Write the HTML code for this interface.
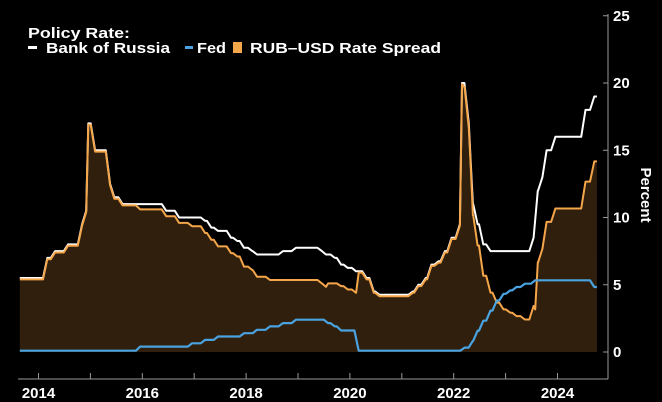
<!DOCTYPE html>
<html><head><meta charset="utf-8">
<style>
html,body{margin:0;padding:0;background:#000;}
svg{display:block;font-family:"Liberation Sans",sans-serif;}
</style></head>
<body>
<svg id="chart" width="662" height="402" viewBox="0 0 662 402">
<rect x="0" y="0" width="662" height="402" fill="#000"/>
<g font-weight="bold" font-size="15" fill="#fff">
<text x="28" y="38" textLength="102" lengthAdjust="spacingAndGlyphs">Policy Rate:</text>
<rect x="28" y="46" width="9" height="3" fill="#fff"/>
<text x="46" y="53" textLength="124" lengthAdjust="spacingAndGlyphs">Bank of Russia</text>
<rect x="185" y="46" width="8" height="3" fill="#4aa3e0"/>
<text x="197" y="53" textLength="29" lengthAdjust="spacingAndGlyphs">Fed</text>
<rect x="233" y="42" width="9" height="11" fill="#f5a64a"/>
<text x="250" y="53" textLength="191" lengthAdjust="spacingAndGlyphs">RUB–USD Rate Spread</text>
</g>
<g id="plot"></g>
<g id="axes"></g>
<text transform="translate(641,195) rotate(90)" text-anchor="middle" font-weight="bold" font-size="15" fill="#fff">Percent</text>
</svg>
<script>
const cbrDates=[2013.64,2014.17,2014.32,2014.57,2014.84,2014.92,2014.96,2015.09,2015.38,2015.46,2015.62,2016.46,2016.71,2017.21,2017.33,2017.46,2017.71,2017.83,2017.96,2018.12,2018.21,2018.71,2018.96,2019.46,2019.54,2019.71,2019.83,2019.96,2020.12,2020.32,2020.46,2020.57,2021.21,2021.32,2021.46,2021.57,2021.71,2021.83,2021.96,2022.12,2022.16,2022.29,2022.33,2022.37,2022.46,2022.57,2022.71,2023.54,2023.62,2023.71,2023.79,2023.96,2024.54,2024.71];
const cbrValues=[5.5,7,7.5,8,9.5,10.5,17,15,12.5,11.5,11,10.5,10,9.75,9.25,9,8.5,8.25,7.75,7.5,7.25,7.5,7.75,7.5,7.25,7,6.5,6.25,6,5.5,4.5,4.25,4.5,5,5.5,6.5,6.75,7.5,8.5,9.5,20,17,14,11,9.5,8,7.5,8.5,12,13,15,16,18,19];
const fedDates=[2013.64,2015.96,2016.96,2017.21,2017.46,2017.96,2018.21,2018.46,2018.71,2018.96,2019.58,2019.71,2019.83,2020.17,2022.21,2022.37,2022.46,2022.57,2022.71,2022.83,2022.96,2023.09,2023.21,2023.37,2023.57,2024.71];
const fedValues=[0.1,0.4,0.65,0.9,1.15,1.4,1.65,1.9,2.15,2.4,2.15,1.9,1.6,0.1,0.33,0.83,1.58,2.33,3.08,3.83,4.33,4.58,4.83,5.08,5.33,4.83];
const endDate=2024.76;
const xTickYears=[2014,2016,2018,2020,2022,2024];
const yTicks=[0,5,10,15,20,25];

const X=t=>38.5+(t-2014)*51.9;
const Y=v=>352-v*13.45;
const NS='http://www.w3.org/2000/svg';
const RAMP=1/12;
function val(d,v,t){let r=v[0];for(let i=0;i<d.length;i++){if(d[i]<=t+1e-9)r=v[i];}return r;}
function rampPts(d,f){
  const pts=[[d[0],f(d[0])]];
  for(let i=1;i<d.length;i++){
    const s=Math.max(d[i]-RAMP,d[i-1]);
    pts.push([s,f(s)]);
    pts.push([d[i],f(d[i])]);
  }
  pts.push([endDate,f(endDate)]);
  return pts;
}
const cbrF=t=>val(cbrDates,cbrValues,t);
const fedF=t=>val(fedDates,fedValues,t);
const allDates=[...new Set(cbrDates.concat(fedDates))].sort((a,b)=>a-b);
const sprF=t=>cbrF(t)-fedF(t);
const pathD=pts=>pts.map((p,i)=>(i?'L':'M')+X(p[0]).toFixed(1)+','+Y(p[1]).toFixed(1)).join('');
const plot=document.getElementById('plot');
function mk(tag,attrs){const e=document.createElementNS(NS,tag);for(const k in attrs)e.setAttribute(k,attrs[k]);return e;}

const sp=rampPts(allDates,sprF);
const area=mk('path',{d:pathD(sp)+'L'+X(endDate)+','+Y(0)+'L'+X(allDates[0])+','+Y(0)+'Z',fill:'#2f1f0c'});


plot.appendChild(area);
const cbrL=mk('path',{d:pathD(rampPts(cbrDates,cbrF)),fill:'none',stroke:'#fff','stroke-width':2,'stroke-linejoin':'round'});


plot.appendChild(cbrL);
const sprL=mk('path',{d:pathD(sp),fill:'none',stroke:'#f5a64a','stroke-width':2,'stroke-linejoin':'round'});


plot.appendChild(sprL);
const fedL=mk('path',{d:pathD(rampPts(fedDates,fedF)),fill:'none',stroke:'#4aa3e0','stroke-width':2.2,'stroke-linejoin':'round'});


plot.appendChild(fedL);

const axes=document.getElementById('axes');
const xa=mk('line',{x1:18,x2:608,y1:379,y2:379,stroke:'#999','stroke-width':1});


axes.appendChild(xa);
const ya=mk('line',{x1:608,x2:608,y1:14,y2:379,stroke:'#999','stroke-width':1});


axes.appendChild(ya);
for(let yr=2014;yr<=2024;yr++){
  const t=mk('line',{x1:X(yr),x2:X(yr),y1:373,y2:379,stroke:'#999'});
  
  
  axes.appendChild(t);
}
xTickYears.forEach(yr=>{
  const t=mk('text',{x:X(yr),y:398,'text-anchor':'middle','font-size':15,'font-weight':'bold',fill:'#fff'});
  t.textContent=yr;
  
  
  axes.appendChild(t);
});
yTicks.forEach(v=>{
  const l=mk('line',{x1:603,x2:608,y1:Y(v),y2:Y(v),stroke:'#999'});
  
  
  axes.appendChild(l);
  const t=mk('text',{x:613,y:Y(v)+5,'font-size':15,'font-weight':'bold',fill:'#fff'});
  t.textContent=v;
  
  
  axes.appendChild(t);
});
</script>
</body></html>
